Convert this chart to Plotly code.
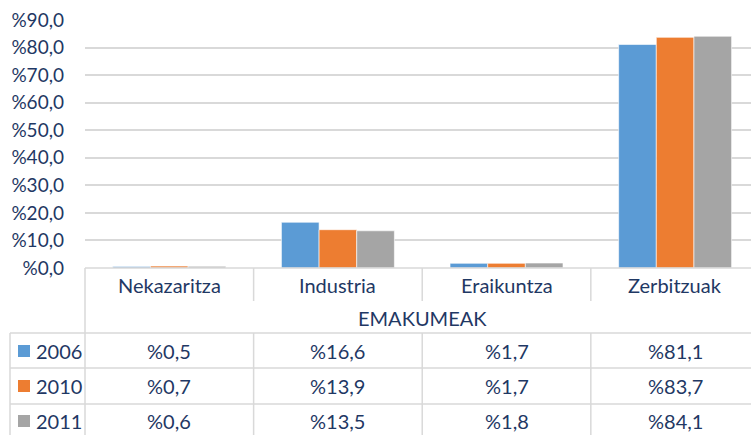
import plotly.graph_objects as go

categories = ["Nekazaritza", "Industria", "Eraikuntza", "Zerbitzuak"]
years = ["2006", "2010", "2011"]
v2006 = [0.5, 16.6, 1.7, 81.1]
v2010 = [0.7, 13.9, 1.7, 83.7]
v2011 = [0.6, 13.5, 1.8, 84.1]
group_label = "EMAKUMEAK"
y_ticks = [0, 10, 20, 30, 40, 50, 60, 70, 80, 90]

COLORS = ["#5B9BD5", "#ED7D31", "#A5A5A5"]
TEXT = "#1F3864"
GRID = "#D9D9D9"
FONT = "Lato"

W, H = 751, 435
L, T = 85, 20
X_RANGE = [-0.5, 3.45]
series = [v2006, v2010, v2011]


def px_to_paper_y(py):
    return (H - py) / (H - T)


def px_to_paper_x(px):
    return (px - L) / (W - L)


def cat_to_paper_x(c):
    return (c - X_RANGE[0]) / (X_RANGE[1] - X_RANGE[0])


def fmt(v):
    return ("%" + f"{v:.1f}").replace(".", ",")


fig = go.Figure()
for name, vals, col in zip(years, series, COLORS):
    fig.add_trace(go.Bar(
        x=list(range(len(categories))), y=vals, name=name,
        marker=dict(color=col, line=dict(color="white", width=0.6)),
    ))

y_axis_px = 268
fig.update_layout(
    width=W, height=H,
    margin=dict(l=L, r=0, t=T, b=0, autoexpand=False),
    paper_bgcolor="white", plot_bgcolor="white",
    font=dict(family=FONT, size=20, color=TEXT),
    showlegend=False, barmode="group", bargap=0.33, bargroupgap=0,
    xaxis=dict(range=X_RANGE, showticklabels=False, showgrid=False,
               zeroline=False, showline=False, automargin=False),
    yaxis=dict(range=[0, 90], domain=[px_to_paper_y(y_axis_px), 1],
               tickvals=y_ticks, ticktext=[fmt(v) for v in y_ticks],
               showgrid=True, gridcolor=GRID, gridwidth=1.5,
               zeroline=False, showline=False, ticklabelstandoff=20,
               automargin=False,
               tickfont=dict(family=FONT, size=19, color=TEXT)),
)

shapes = []
line = dict(color=GRID, width=1.5)


def hline(py, x0, x1):
    shapes.append(dict(type="line", xref="paper", yref="paper",
                       x0=x0, x1=x1, y0=px_to_paper_y(py), y1=px_to_paper_y(py), line=line))


def vline(px0, py0, py1, paper_x=None):
    x = paper_x if paper_x is not None else px_to_paper_x(px0)
    shapes.append(dict(type="line", xref="paper", yref="paper",
                       x0=x, x1=x, y0=px_to_paper_y(py0), y1=px_to_paper_y(py1), line=line))


left_px = 10
row_lines = [333, 368, 404]
hline(y_axis_px, 0, 1)
for py in row_lines:
    hline(py, px_to_paper_x(left_px), 1)
vline(L, y_axis_px, H)
vline(left_px, row_lines[0], H)
for i in range(1, len(categories)):
    bx = cat_to_paper_x(i - 0.5)
    vline(None, y_axis_px, 301, paper_x=bx)
    vline(None, row_lines[0], H, paper_x=bx)

annotations = []
for i, c in enumerate(categories):
    annotations.append(dict(x=cat_to_paper_x(i), y=px_to_paper_y(285), text=c,
                            xref="paper", yref="paper", showarrow=False,
                            xanchor="center", yanchor="middle"))
annotations.append(dict(x=cat_to_paper_x(1.5), y=px_to_paper_y(318), text=group_label,
                        xref="paper", yref="paper", showarrow=False,
                        xanchor="center", yanchor="middle"))

row_centers = [351, 386, 421]
for name, vals, col, py in zip(years, series, COLORS, row_centers):
    shapes.append(dict(type="rect", xref="paper", yref="paper",
                       x0=px_to_paper_x(18), x1=px_to_paper_x(30),
                       y0=px_to_paper_y(py + 6), y1=px_to_paper_y(py - 6),
                       fillcolor=col, line=dict(width=0)))
    annotations.append(dict(x=px_to_paper_x(34), y=px_to_paper_y(py), text=name,
                            xref="paper", yref="paper", showarrow=False,
                            xanchor="left", yanchor="middle"))
    for i, v in enumerate(vals):
        annotations.append(dict(x=cat_to_paper_x(i), y=px_to_paper_y(py), text=fmt(v),
                                xref="paper", yref="paper", showarrow=False,
                                xanchor="center", yanchor="middle"))

fig.update_layout(shapes=shapes, annotations=annotations)
fig.write_html("out.html", config={"displayModeBar": False},
               post_script="document.body.style.margin='0';")
